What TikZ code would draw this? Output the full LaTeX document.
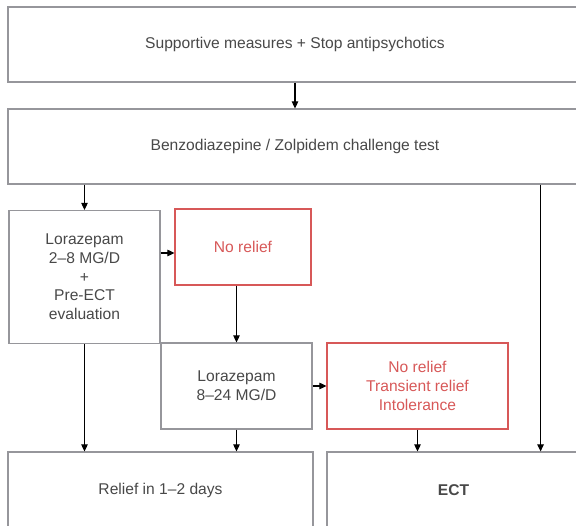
\documentclass[tikz,border=0pt]{standalone}
\usepackage{fontspec}
\setmainfont{Liberation Sans}
\usetikzlibrary{arrows.meta}
\definecolor{boxgray}{RGB}{150,150,155}
\definecolor{textgray}{RGB}{72,72,72}
\definecolor{alertred}{RGB}{215,88,88}
\tikzset{
  box/.style={draw=boxgray,line width=1.2pt,text=textgray,align=center,inner sep=0pt},
  redbox/.style={box,draw=alertred,text=alertred},
  arr/.style={-{Triangle[length=7pt,width=6.5pt]},line width=1.1pt}
}
\begin{document}
\begin{tikzpicture}[x=1pt,y=-1pt,font=\fontsize{15.6}{18.7}\selectfont]
  \useasboundingbox (0,0) rectangle (576,526);
  \node[box,minimum width=574pt,minimum height=75pt] (supp) at (295,44.5) {Supportive measures + Stop antipsychotics};
  \node[box,minimum width=574pt,minimum height=75pt] (bench) at (295,146.5) {Benzodiazepine / Zolpidem challenge test};
  \node[box,minimum width=151pt,minimum height=133pt] (lora1) at (84.5,277) {Lorazepam\\2--8 MG/D\\+\\Pre-ECT\\evaluation};
  \node[redbox,minimum width=136pt,minimum height=76pt] (norel1) at (243,247) {No relief};
  \node[box,minimum width=151pt,minimum height=86pt] (lora2) at (236.5,386) {Lorazepam\\8--24 MG/D};
  \node[redbox,minimum width=181pt,minimum height=86pt] (norel2) at (417.5,386) {No relief\\Transient relief\\Intolerance};
  \node[box,minimum width=305pt,minimum height=76pt] (relief) at (160.5,490) {Relief in 1--2 days};
  \node[box,minimum width=253pt,minimum height=76pt] (ect) at (453.5,490) {\bfseries ECT};
  \draw[arr] (supp) -- (bench);
  \draw[arr] (bench.south -| lora1.north) -- (lora1.north);
  \draw[arr] ([yshift=-6pt]norel1.west -| lora1.east) -- ([yshift=-6pt]norel1.west);
  \draw[arr] (lora2.north |- norel1.south) -- (lora2.north);
  \draw[arr] (lora2) -- (norel2);
  \foreach \a/\b in {lora1/relief,lora2/relief,norel2/ect} {
    \draw[arr] (\a.south) -- (\a.south |- \b.north);
  }
  \draw[arr] ([xshift=-42pt]bench.south east) -- ([xshift=-42pt]bench.south east |- ect.north);
\end{tikzpicture}
\end{document}
